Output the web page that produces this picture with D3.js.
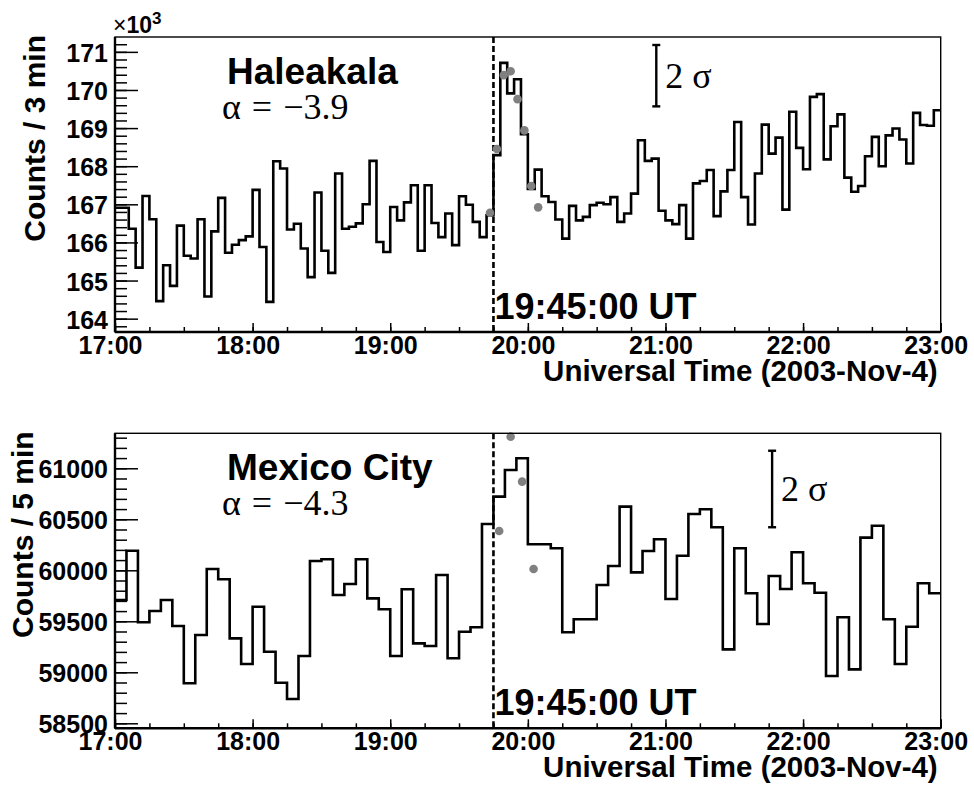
<!DOCTYPE html>
<html>
<head>
<meta charset="utf-8">
<script src="https://cdn.jsdelivr.net/npm/d3@7"></script>
<style>
  body { margin: 0; background: #fff; }
  svg { display: block; }
  .sans { font-family: "Liberation Sans", Arial, Helvetica, sans-serif; font-weight: bold; }
  .serif { font-family: "Liberation Serif", "Times New Roman", serif; }
  .exp { font-family: "Liberation Sans", Arial, Helvetica, sans-serif; font-size: 23px; }
</style>
</head>
<body>
<svg id="chart"></svg>
<script>
// time window and flare onset
const timeRange = ["17:00:00", "23:00:00"];
const flareTime = "19:45:00";
const xTitle = "Universal Time (2003-Nov-4)";

// Haleakala, counts per 3 min (x10^3), 17:00 -> 23:00
const haleakalaCounts = [
  166.91, 166.91, 166.36, 165.34, 167.22, 166.61, 164.46, 165.40, 164.86, 166.44,
  165.65, 165.58, 166.61, 164.58, 166.29, 167.17, 165.73, 165.94, 166.06, 166.16,
  167.38, 165.88, 164.44, 168.13, 167.94, 166.34, 166.49, 165.84, 165.09, 167.31,
  165.78, 165.20, 167.81, 166.36, 166.41, 166.50, 167.00, 168.14, 166.01, 165.75,
  166.93, 166.58, 167.05, 167.50, 165.78, 167.50, 166.51, 166.14, 166.76, 165.93,
  167.21, 166.99, 166.54, 166.14, 166.71, 168.29, 170.71, 169.91, 170.28, 168.84,
  167.40, 167.91, 167.21, 167.06, 166.60, 166.10, 166.96, 166.58, 166.67, 166.98,
  167.04, 167.00, 167.19, 166.54, 166.76, 167.28, 168.68, 168.14, 168.20, 166.83,
  166.58, 166.48, 166.98, 166.10, 167.55, 167.61, 167.90, 166.69, 167.34, 167.90,
  169.16, 167.19, 166.47, 167.81, 169.09, 168.33, 168.75, 166.86, 169.43, 168.48,
  167.92, 169.82, 169.89, 168.18, 169.05, 169.36, 167.70, 167.33, 167.48, 168.26,
  168.77, 168.00, 168.81, 168.99, 168.70, 168.07, 169.40, 169.08, 169.06, 169.47
];
const haleakalaFitTimes = ["19:43:30", "19:46:30", "19:49:30", "19:52:30", "19:55:30", "19:58:30", "20:01:30", "20:04:30"];
const haleakalaFit = [166.78, 168.45, 170.39, 170.49, 169.76, 168.94, 167.48, 166.92];

// Mexico City, counts per 5 min
const mexicoCounts = [
  59709, 60192, 59490, 59601, 59709, 59454, 58892, 59366, 60013, 59912,
  59333, 59081, 59643, 59202, 58898, 58738, 59160, 60091, 60108, 59758,
  59866, 60108, 59725, 59618, 59160, 59814, 59284, 59258, 59954, 59137,
  59398, 59441, 60454, 60722, 60983, 61098, 60255, 60255, 60216, 59392,
  59520, 59520, 59856, 60042, 60624, 59980, 60189, 60304, 59719, 60143,
  60552, 60598, 60422, 59225, 60216, 59775, 59474, 59944, 59817, 60177,
  59873, 59780, 58964, 59539, 59029, 60320, 60437, 59520, 59081, 59447,
  59873, 59775
];
const mexicoFitTimes = ["19:47:30", "19:52:30", "19:57:30", "20:02:30"];
const mexicoFit = [60385, 61310, 60869, 60013];

// 2 sigma scale bars: time, low, high
const sigmaBarTimes = ["20:56:00", "21:46:30"];
const sigmaBarLow = [169.57, 60422];
const sigmaBarHigh = [171.18, 61172];

const parseTime = t => new Date(`2003-11-04T${t}Z`);

const config = {
  width: 974,
  height: 788,
  left: 115,
  right: 940.7,
  frameHeight: 295
};

const svg = d3.select("#chart")
  .attr("width", config.width)
  .attr("height", config.height);

const x = d3.scaleUtc()
  .domain(timeRange.map(parseTime))
  .range([config.left, config.right]);

const panels = [
  {
    name: "Haleakala",
    alpha: "\u03b1 = \u22123.9",
    counts: haleakalaCounts,
    binMinutes: 3,
    fitTimes: haleakalaFitTimes,
    fit: haleakalaFit,
    yDomain: [163.65, 171.39],
    yMajor: d3.range(164, 171.5, 1),
    yMinor: d3.range(163.8, 171.4, 0.2),
    yFormat: d3.format("d"),
    yTitle: "Counts / 3 min",
    titleX: 45,
    exponent: true,
    top: 37
  },
  {
    name: "Mexico City",
    alpha: "\u03b1 = \u22124.3",
    counts: mexicoCounts,
    binMinutes: 5,
    fitTimes: mexicoFitTimes,
    fit: mexicoFit,
    yDomain: [58451, 61343],
    yMajor: d3.range(58500, 61001, 500),
    yMinor: d3.range(58500, 61343, 100),
    yFormat: d3.format("d"),
    yTitle: "Counts / 5 min",
    titleX: 33,
    exponent: false,
    top: 433.3
  }
];

const drawPanel = (p, idx) => {
  const bottom = p.top + config.frameHeight;
  const y = d3.scaleLinear().domain(p.yDomain).range([bottom, p.top]);
  const g = svg.append("g").attr("class", "panel");
  const t0 = x.domain()[0];
  const binStart = i => new Date(+t0 + i * p.binMinutes * 60000);

  // step histogram
  const pts = p.counts.map((v, i) => [binStart(i), v]);
  pts.push([x.domain()[1], p.counts[p.counts.length - 1]]);
  const line = d3.line()
    .x(d => x(d[0]))
    .y(d => y(d[1]))
    .curve(d3.curveStepAfter);

  g.append("path")
    .attr("d", line(pts))
    .attr("fill", "none")
    .attr("stroke", "#000")
    .attr("stroke-width", 2.6);

  // flare onset
  const fx = x(parseTime(flareTime));
  g.append("line")
    .attr("x1", fx).attr("x2", fx)
    .attr("y1", p.top).attr("y2", bottom)
    .attr("stroke", "#000")
    .attr("stroke-width", 2.6)
    .attr("stroke-dasharray", "6,3");

  // fitted points
  g.selectAll("circle.fit")
    .data(p.fit)
    .join("circle")
    .attr("class", "fit")
    .attr("cx", (d, i) => x(parseTime(p.fitTimes[i])))
    .attr("cy", d => y(d))
    .attr("r", 4.3)
    .attr("fill", "#808080");

  // frame
  g.append("rect")
    .attr("x", config.left).attr("y", p.top)
    .attr("width", config.right - config.left)
    .attr("height", config.frameHeight)
    .attr("fill", "none")
    .attr("stroke", "#000")
    .attr("stroke-width", 1.4);

  // y axis
  const yAxis = g.append("g")
    .attr("transform", `translate(${config.left},0)`)
    .call(d3.axisLeft(y).tickValues(p.yMajor).tickSize(-23).tickPadding(7).tickFormat(p.yFormat));
  g.append("g")
    .attr("transform", `translate(${config.left},0)`)
    .call(d3.axisLeft(y).tickValues(p.yMinor).tickSize(-12).tickFormat(""));

  // x axis
  const xAxis = g.append("g")
    .attr("transform", `translate(0,${bottom})`)
    .call(d3.axisBottom(x).ticks(d3.utcHour.every(1)).tickSize(-9).tickPadding(4).tickFormat(d3.utcFormat("%H:%M")));
  g.append("g")
    .attr("transform", `translate(0,${bottom})`)
    .call(d3.axisBottom(x).ticks(d3.utcMinute.every(15)).tickSize(-5).tickFormat(""));

  g.selectAll(".domain").remove();
  g.selectAll(".tick line").attr("stroke", "#000").attr("stroke-width", 1.5);
  yAxis.selectAll("text").attr("class", "sans").attr("font-size", 25).attr("dy", "0.38em")
    .attr("fill", "#000");
  xAxis.selectAll("text").attr("class", "sans").attr("font-size", 25).attr("dx", -5)
    .attr("fill", "#000");

  // thicker left / bottom axis lines
  g.append("line")
    .attr("x1", config.left).attr("x2", config.left)
    .attr("y1", p.top).attr("y2", bottom)
    .attr("stroke", "#000").attr("stroke-width", 2.4);
  g.append("line")
    .attr("x1", config.left).attr("x2", config.right)
    .attr("y1", bottom).attr("y2", bottom)
    .attr("stroke", "#000").attr("stroke-width", 2.4);

  // axis titles
  g.append("text")
    .attr("class", "sans")
    .attr("font-size", 30)
    .attr("text-anchor", "end")
    .attr("transform", `translate(${p.titleX},${p.top - 2}) rotate(-90)`)
    .text(p.yTitle);

  g.append("text")
    .attr("class", "sans")
    .attr("font-size", 29.5)
    .attr("text-anchor", "end")
    .attr("x", config.right - 3)
    .attr("y", bottom + 49)
    .text(xTitle);

  // x10^3 multiplier
  if (p.exponent) {
    const e = g.append("text")
      .attr("class", "exp")
      .attr("x", config.left - 2)
      .attr("y", p.top - 4);
    e.append("tspan").text("\u00d7");
    e.append("tspan").style("font-weight", "bold").text("10");
    e.append("tspan").style("font-weight", "bold").style("font-size", "17px")
      .attr("dy", -9).text("3");
  }

  // labels
  g.append("text")
    .attr("class", "sans")
    .attr("font-size", 37)
    .attr("x", 227)
    .attr("y", p.top + 47)
    .text(p.name);

  g.append("text")
    .attr("class", "serif")
    .attr("font-size", 36)
    .attr("word-spacing", 2)
    .attr("x", 222)
    .attr("y", p.top + 82)
    .text(p.alpha);

  g.append("text")
    .attr("class", "sans")
    .attr("font-size", 36)
    .attr("x", fx + 1)
    .attr("y", bottom - 13)
    .text(flareTime + " UT");

  // 2 sigma bar
  const sx = x(parseTime(sigmaBarTimes[idx]));
  const sy0 = y(sigmaBarLow[idx]);
  const sy1 = y(sigmaBarHigh[idx]);
  const bar = g.append("g").attr("stroke", "#000").attr("stroke-width", 2.4);
  bar.append("line").attr("x1", sx).attr("x2", sx).attr("y1", sy0).attr("y2", sy1);
  bar.append("line").attr("x1", sx - 4).attr("x2", sx + 4).attr("y1", sy0).attr("y2", sy0);
  bar.append("line").attr("x1", sx - 4).attr("x2", sx + 4).attr("y1", sy1).attr("y2", sy1);

  g.append("text")
    .attr("class", "serif")
    .attr("font-size", 36)
    .attr("x", sx + 9)
    .attr("y", (sy0 + sy1) / 2 + 12)
    .text("2 \u03c3");
};

panels.forEach(drawPanel);
</script>
</body>
</html>
